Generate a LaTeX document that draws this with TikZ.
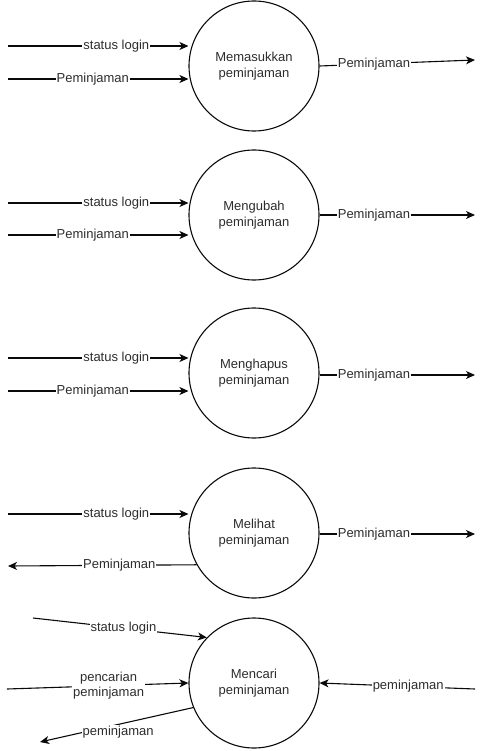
\documentclass[tikz,border=0pt]{standalone}
\usepackage{fontspec}
\setmainfont{Liberation Sans}
\usepackage{tikz}
\usetikzlibrary{arrows.meta, positioning, calc}
\definecolor{mydark}{RGB}{10,10,10}
\definecolor{mytext}{RGB}{45,45,45}
\tikzset{
  process/.style={circle,draw=mydark,fill=white,minimum size=130pt,inner sep=0pt,
    line width=1.1pt,align=center,text=mytext,font=\fontsize{13}{15.5}\selectfont},
  flow/.style={-{Stealth[length=9pt,width=8pt,inset=2.5pt]},line width=1.1pt,color=mydark},
  lbl/.style={fill=white,inner sep=1pt,text=mytext,font=\fontsize{13}{15.5}\selectfont}
}

\begin{document}
\begin{tikzpicture}[x=1pt,y=-1pt]
  \useasboundingbox (0,0) rectangle (484,751);

  % Processes
  \node[process] (masuk) at (254,66) {Memasukkan\\peminjaman};
  \node[process] (ubah)  at (254,215) {Mengubah\\peminjaman};
  \node[process] (hapus) at (254,373) {Menghapus\\peminjaman};
  \node[process] (lihat) at (254,533) {Melihat\\peminjaman};
  \node[process] (cari)  at (254,683) {Mencari\\peminjaman};

  % free ends
  \coordinate (s1) at (8,46);   \coordinate (p1) at (8,79);   \coordinate (o1) at (475,60);
  \coordinate (s2) at (8,203);  \coordinate (p2) at (8,235);  \coordinate (o2) at (475,215);
  \coordinate (s3) at (8,358);  \coordinate (p3) at (8,391);  \coordinate (o3) at (475,375);
  \coordinate (s4) at (8,514);  \coordinate (p4) at (8,566);  \coordinate (o4) at (475,534);
  \coordinate (s5) at (33,618); \coordinate (c5) at (7,689);  \coordinate (r5) at (475,689);
  \coordinate (b5) at (40,742);

  % Memasukkan peminjaman
  \draw[flow] (s1) -- node[lbl,pos=0.6]{status login} (s1 -| masuk.west);
  \draw[flow] (p1) -- node[lbl,pos=0.47]{Peminjaman} (p1 -| masuk.west);
  \draw[flow] (masuk.east) -- node[lbl,pos=0.35]{Peminjaman} (o1);

  % Mengubah peminjaman
  \draw[flow] (s2) -- node[lbl,pos=0.6]{status login} (s2 -| ubah.west);
  \draw[flow] (p2) -- node[lbl,pos=0.47]{Peminjaman} (p2 -| ubah.west);
  \draw[flow] (ubah.east) -- node[lbl,pos=0.35]{Peminjaman} (o2);

  % Menghapus peminjaman
  \draw[flow] (s3) -- node[lbl,pos=0.6]{status login} (s3 -| hapus.west);
  \draw[flow] (p3) -- node[lbl,pos=0.47]{Peminjaman} (p3 -| hapus.west);
  \draw[flow] (hapus.east |- o3) -- node[lbl,pos=0.35]{Peminjaman} (o3);

  % Melihat peminjaman
  \draw[flow] (s4) -- node[lbl,pos=0.6]{status login} (s4 -| lihat.west);
  \draw[flow] (lihat.209) -- node[lbl,pos=0.41]{Peminjaman} (p4);
  \draw[flow] (lihat.east |- o4) -- node[lbl,pos=0.35]{Peminjaman} (o4);

  % Mencari peminjaman
  \draw[flow] (s5) -- node[lbl,pos=0.52]{status login} (cari.136);
  \draw[flow] (c5) -- node[lbl,pos=0.56,align=center,font=\fontsize{13}{14.5}\selectfont]{pencarian\\peminjaman} (cari.west);
  \draw[flow] (r5) -- node[lbl,pos=0.43]{peminjaman} (cari.east);
  \draw[flow] (cari.202) -- node[lbl,pos=0.49,yshift=-8pt]{peminjaman} (b5);
\end{tikzpicture}
\end{document}
